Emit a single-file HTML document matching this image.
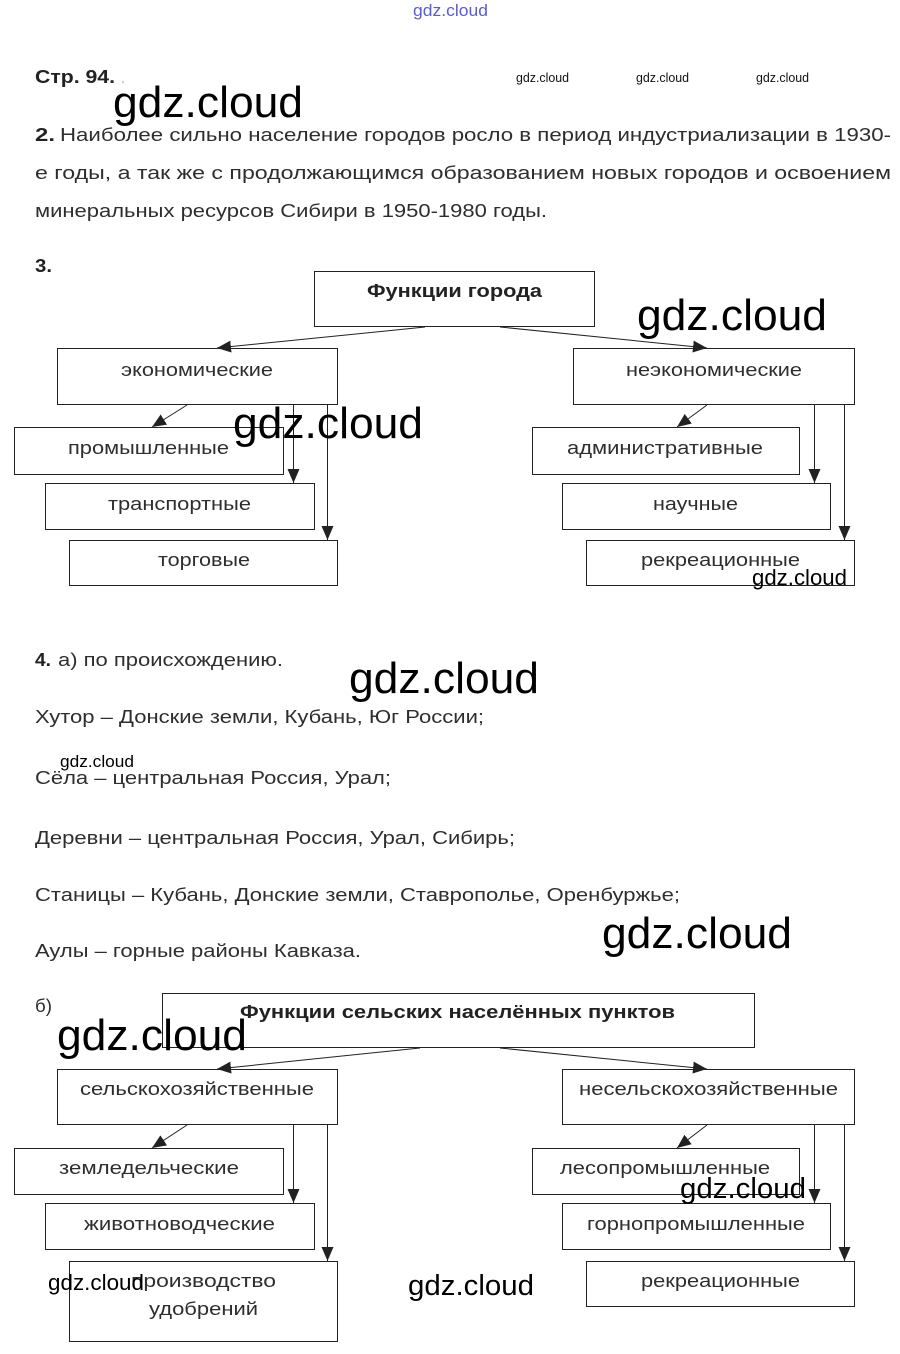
<!DOCTYPE html>
<html>
<head>
<meta charset="utf-8">
<style>
html,body{margin:0;padding:0;background:#fff;}
svg{display:block}
</style>
</head>
<body>
<svg width="900" height="1354" viewBox="0 0 900 1354" xmlns="http://www.w3.org/2000/svg" font-family="'Liberation Sans', Arial, sans-serif">
<defs>
<marker id="ah" markerWidth="14" markerHeight="12" refX="14" refY="6" orient="auto" markerUnits="userSpaceOnUse">
<path d="M0,0 L14,6 L0,12 z" fill="#222"/>
</marker>
</defs>
<rect width="900" height="1354" fill="#fff"/>

<!-- Body text -->
<g fill="#2e2e2e" font-size="18.5">
<text x="35" y="83" font-weight="bold" fill="#222" textLength="80" lengthAdjust="spacingAndGlyphs">Стр. 94.</text>
<text x="121" y="83" fill="#999" font-size="14">.</text>

<text x="35" y="141" font-weight="bold" fill="#222" textLength="20" lengthAdjust="spacingAndGlyphs">2.</text>
<text x="60" y="141" textLength="831" lengthAdjust="spacingAndGlyphs">Наиболее сильно население городов росло в период индустриализации в 1930-</text>
<text x="35" y="179" textLength="856" lengthAdjust="spacingAndGlyphs">е годы, а так же с продолжающимся образованием новых городов и освоением</text>
<text x="35" y="217" textLength="512" lengthAdjust="spacingAndGlyphs">минеральных ресурсов Сибири в 1950-1980 годы.</text>

<text x="35" y="272" font-weight="bold" fill="#222" textLength="17" lengthAdjust="spacingAndGlyphs">3.</text>

<text x="35" y="666" font-weight="bold" fill="#222" textLength="16" lengthAdjust="spacingAndGlyphs">4.</text>
<text x="58" y="666" textLength="225" lengthAdjust="spacingAndGlyphs">а) по происхождению.</text>
<text x="35" y="723" textLength="449" lengthAdjust="spacingAndGlyphs">Хутор – Донские земли, Кубань, Юг России;</text>
<text x="35" y="784" textLength="356" lengthAdjust="spacingAndGlyphs">Сёла – центральная Россия, Урал;</text>
<text x="35" y="844" textLength="480" lengthAdjust="spacingAndGlyphs">Деревни – центральная Россия, Урал, Сибирь;</text>
<text x="35" y="901" textLength="645" lengthAdjust="spacingAndGlyphs">Станицы – Кубань, Донские земли, Ставрополье, Оренбуржье;</text>
<text x="35" y="957" textLength="326" lengthAdjust="spacingAndGlyphs">Аулы – горные районы Кавказа.</text>
<text x="35" y="1012" textLength="17" lengthAdjust="spacingAndGlyphs">б)</text>
</g>

<!-- Diagram 1 -->
<g fill="none" stroke="#222" stroke-width="1">
<rect x="314.5" y="271.5" width="280" height="55"/>
<rect x="57.5" y="348.5" width="280" height="56"/>
<rect x="573.5" y="348.5" width="281" height="56"/>
<rect x="14.5" y="427.5" width="269" height="47"/>
<rect x="45.5" y="483.5" width="269" height="46"/>
<rect x="69.5" y="540.5" width="268" height="45"/>
<rect x="532.5" y="427.5" width="267" height="47"/>
<rect x="562.5" y="483.5" width="268" height="46"/>
<rect x="586.5" y="540.5" width="268" height="45"/>

<line x1="425" y1="327" x2="217" y2="348" marker-end="url(#ah)"/>
<line x1="500" y1="327" x2="707" y2="348" marker-end="url(#ah)"/>
<line x1="187" y1="405" x2="152" y2="427" marker-end="url(#ah)"/>
<line x1="707" y1="405" x2="677" y2="427" marker-end="url(#ah)"/>
<line x1="293.5" y1="405" x2="293.5" y2="483" marker-end="url(#ah)"/>
<line x1="327.5" y1="405" x2="327.5" y2="540" marker-end="url(#ah)"/>
<line x1="814.5" y1="405" x2="814.5" y2="483" marker-end="url(#ah)"/>
<line x1="844.5" y1="405" x2="844.5" y2="540" marker-end="url(#ah)"/>
</g>

<!-- Diagram 2 -->
<g fill="none" stroke="#222" stroke-width="1">
<rect x="162.5" y="993.5" width="592" height="54"/>
<rect x="57.5" y="1069.5" width="280" height="55"/>
<rect x="562.5" y="1069.5" width="292" height="55"/>
<rect x="14.5" y="1148.5" width="269" height="46"/>
<rect x="45.5" y="1203.5" width="269" height="46"/>
<rect x="69.5" y="1261.5" width="268" height="80"/>
<rect x="532.5" y="1148.5" width="267" height="46"/>
<rect x="562.5" y="1203.5" width="268" height="46"/>
<rect x="586.5" y="1261.5" width="268" height="45"/>

<line x1="420" y1="1048" x2="217" y2="1069" marker-end="url(#ah)"/>
<line x1="500" y1="1048" x2="707" y2="1069" marker-end="url(#ah)"/>
<line x1="187" y1="1125" x2="152" y2="1148" marker-end="url(#ah)"/>
<line x1="707" y1="1125" x2="677" y2="1148" marker-end="url(#ah)"/>
<line x1="293.5" y1="1125" x2="293.5" y2="1203" marker-end="url(#ah)"/>
<line x1="327.5" y1="1125" x2="327.5" y2="1261" marker-end="url(#ah)"/>
<line x1="814.5" y1="1125" x2="814.5" y2="1203" marker-end="url(#ah)"/>
<line x1="844.5" y1="1125" x2="844.5" y2="1261" marker-end="url(#ah)"/>
</g>

<!-- Diagram labels -->
<g fill="#2e2e2e" font-size="18.5">
<text x="367" y="297" font-weight="bold" fill="#222" textLength="175" lengthAdjust="spacingAndGlyphs">Функции города</text>
<text x="121" y="376" textLength="152" lengthAdjust="spacingAndGlyphs">экономические</text>
<text x="626" y="376" textLength="176" lengthAdjust="spacingAndGlyphs">неэкономические</text>
<text x="68" y="454" textLength="161" lengthAdjust="spacingAndGlyphs">промышленные</text>
<text x="567" y="454" textLength="196" lengthAdjust="spacingAndGlyphs">административные</text>
<text x="108" y="510" textLength="143" lengthAdjust="spacingAndGlyphs">транспортные</text>
<text x="653" y="510" textLength="85" lengthAdjust="spacingAndGlyphs">научные</text>
<text x="158" y="566" textLength="92" lengthAdjust="spacingAndGlyphs">торговые</text>
<text x="641" y="566" textLength="159" lengthAdjust="spacingAndGlyphs">рекреационные</text>

<text x="240" y="1018" font-weight="bold" fill="#222" textLength="435" lengthAdjust="spacingAndGlyphs">Функции сельских населённых пунктов</text>
<text x="80" y="1095" textLength="234" lengthAdjust="spacingAndGlyphs">сельскохозяйственные</text>
<text x="579" y="1095" textLength="259" lengthAdjust="spacingAndGlyphs">несельскохозяйственные</text>
<text x="59" y="1174" textLength="180" lengthAdjust="spacingAndGlyphs">земледельческие</text>
<text x="560" y="1174" textLength="210" lengthAdjust="spacingAndGlyphs">лесопромышленные</text>
<text x="84" y="1230" textLength="191" lengthAdjust="spacingAndGlyphs">животноводческие</text>
<text x="587" y="1230" textLength="218" lengthAdjust="spacingAndGlyphs">горнопромышленные</text>
<text x="131" y="1287" textLength="145" lengthAdjust="spacingAndGlyphs">производство</text>
<text x="149" y="1315" textLength="109" lengthAdjust="spacingAndGlyphs">удобрений</text>
<text x="641" y="1287" textLength="159" lengthAdjust="spacingAndGlyphs">рекреационные</text>
</g>

<!-- Watermarks -->
<g font-family="'Liberation Sans', 'DejaVu Sans', sans-serif">
<text x="413" y="16" font-size="17" fill="#5a5ae0" textLength="75" lengthAdjust="spacingAndGlyphs">gdz.cloud</text>
<g fill="#111" font-size="13">
<text x="516" y="82" textLength="53" lengthAdjust="spacingAndGlyphs">gdz.cloud</text>
<text x="636" y="82" textLength="53" lengthAdjust="spacingAndGlyphs">gdz.cloud</text>
<text x="756" y="82" textLength="53" lengthAdjust="spacingAndGlyphs">gdz.cloud</text>
</g>
<g fill="#000" font-size="44">
<text x="113" y="117" textLength="190" lengthAdjust="spacingAndGlyphs">gdz.cloud</text>
<text x="637" y="330" textLength="190" lengthAdjust="spacingAndGlyphs">gdz.cloud</text>
<text x="233" y="438" textLength="190" lengthAdjust="spacingAndGlyphs">gdz.cloud</text>
<text x="349" y="693" textLength="190" lengthAdjust="spacingAndGlyphs">gdz.cloud</text>
<text x="602" y="948" textLength="190" lengthAdjust="spacingAndGlyphs">gdz.cloud</text>
<text x="57" y="1050" textLength="190" lengthAdjust="spacingAndGlyphs">gdz.cloud</text>
</g>
<g fill="#000" font-size="22">
<text x="752" y="585" textLength="95" lengthAdjust="spacingAndGlyphs">gdz.cloud</text>
<text x="48" y="1290" textLength="96" lengthAdjust="spacingAndGlyphs">gdz.cloud</text>
</g>
<g fill="#000" font-size="29">
<text x="408" y="1295" textLength="126" lengthAdjust="spacingAndGlyphs">gdz.cloud</text>
<text x="680" y="1198" textLength="126" lengthAdjust="spacingAndGlyphs">gdz.cloud</text>
</g>
<text x="60" y="767" font-size="17" fill="#000" textLength="74" lengthAdjust="spacingAndGlyphs">gdz.cloud</text>
</g>
</svg>
</body>
</html>
